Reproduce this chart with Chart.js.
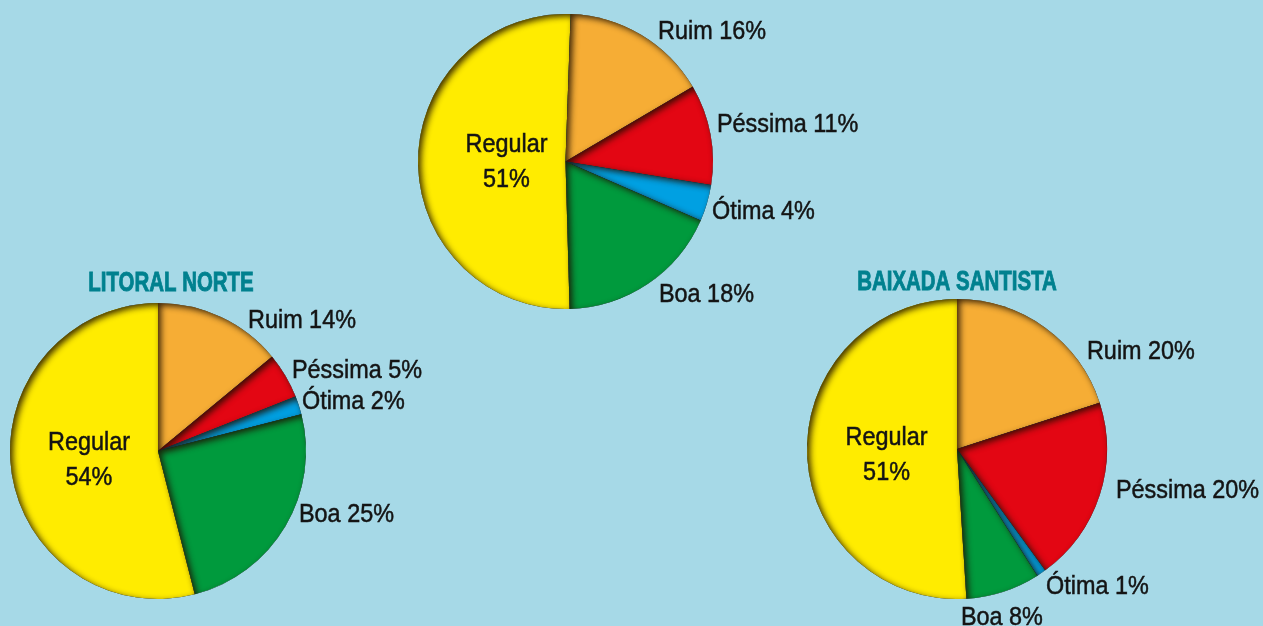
<!DOCTYPE html>
<html>
<head>
<meta charset="utf-8">
<script src="https://cdn.jsdelivr.net/npm/chart.js@4.4.1/dist/chart.umd.min.js"></script>
<style>
  html, body { margin: 0; padding: 0; background: #a6d9e7; overflow: hidden; }
  #wrap { position: relative; width: 1263px; height: 626px; }
  canvas { position: absolute; left: 0; top: 0; }
</style>
</head>
<body>
<div id="wrap">
  <canvas id="cEstado" width="1263" height="626"></canvas>
  <canvas id="cLitoral" width="1263" height="626"></canvas>
  <canvas id="cBaixada" width="1263" height="626"></canvas>
</div>
<script>
// ---- data ----
const categories = ['Ruim', 'Péssima', 'Ótima', 'Boa', 'Regular'];
const estadoValues = [16, 11, 4, 18, 51];
const litoralValues = [14, 5, 2, 25, 54];
const baixadaValues = [20, 20, 1, 8, 51];
const titles = ['', 'LITORAL NORTE', 'BAIXADA SANTISTA'];

// ---- styles ----
const sliceColors = ['#f6ad35', '#e30613', '#00a0e2', '#009a3d', '#ffec00'];
const LABEL_FONT = '26px "Liberation Sans", Arial, sans-serif';
const LABEL_SX = 0.9;
const TITLE_FONT = 'bold 28px "Liberation Sans", Arial, sans-serif';
const TITLE_SX = 0.73;
const CAP = 18.6;

function drawText(ctx, text, x, y, sx, strokeW) {
  ctx.save();
  ctx.translate(x, y);
  ctx.scale(sx, 1);
  ctx.fillText(text, 0, 0);
  if (strokeW) { ctx.lineWidth = strokeW; ctx.strokeStyle = ctx.fillStyle; ctx.strokeText(text, 0, 0); }
  ctx.restore();
}

// inner shadow on each slice (light from lower right)
const innerShadow = {
  id: 'innerShadow',
  afterDatasetsDraw(chart) {
    const ctx = chart.ctx;
    const meta = chart.getDatasetMeta(0);
    meta.data.forEach(arc => {
      const p = arc.getProps(['x', 'y', 'startAngle', 'endAngle', 'outerRadius'], true);
      ctx.save();
      ctx.beginPath();
      ctx.moveTo(p.x, p.y);
      ctx.arc(p.x, p.y, p.outerRadius, p.startAngle, p.endAngle);
      ctx.closePath();
      ctx.clip();
      ctx.beginPath();
      ctx.rect(p.x - p.outerRadius * 3, p.y - p.outerRadius * 3, p.outerRadius * 6, p.outerRadius * 6);
      ctx.moveTo(p.x, p.y);
      ctx.arc(p.x, p.y, p.outerRadius, p.startAngle, p.endAngle);
      ctx.closePath();
      ctx.shadowColor = 'rgba(30,15,0,0.85)';
      ctx.shadowBlur = 6;
      ctx.shadowOffsetX = 3;
      ctx.shadowOffsetY = 2.5;
      ctx.fillStyle = '#000';
      ctx.fill('evenodd');
      ctx.restore();
    });
  }
};

// labels for slices + title
const sliceLabels = {
  id: 'sliceLabels',
  afterDraw(chart, args, opts) {
    const ctx = chart.ctx;
    const meta = chart.getDatasetMeta(0);
    const data = chart.data.datasets[0].data;
    const labels = chart.data.labels;
    ctx.save();
    ctx.fillStyle = '#141414';
    ctx.font = LABEL_FONT;
    ctx.textBaseline = 'alphabetic';
    meta.data.forEach((arc, i) => {
      const p = arc.getProps(['x', 'y', 'startAngle', 'endAngle', 'outerRadius'], true);
      const mid = (p.startAngle + p.endAngle) / 2;
      const o = opts.place[i];
      if (o.inside) {
        const rr = p.outerRadius * o.r;
        const cx = p.x + Math.cos(mid) * rr;
        const cy = p.y + Math.sin(mid) * rr + (o.dy || 0);
        ctx.textAlign = 'center';
        drawText(ctx, labels[i], cx, cy - 17.5 + CAP / 2, LABEL_SX, 0.5);
        drawText(ctx, data[i] + '%', cx, cy + 17.5 + CAP / 2, LABEL_SX, 0.5);
      } else {
        const ax = p.x + Math.cos(mid) * p.outerRadius + o.dx;
        const ay = p.y + Math.sin(mid) * p.outerRadius + o.dy;
        ctx.textAlign = 'left';
        drawText(ctx, labels[i] + ' ' + data[i] + '%', ax, ay + CAP / 2, LABEL_SX, 0.5);
      }
    });
    if (opts.title) {
      const a = chart.chartArea;
      ctx.font = TITLE_FONT;
      ctx.fillStyle = '#00818f';
      ctx.textAlign = 'center';
      drawText(ctx, opts.title, (a.left + a.right) / 2 + (opts.titleDx || 0), a.top - opts.titleGap, TITLE_SX, 0.9);
    }
    ctx.restore();
  }
};

function makePie(id, values, rotation, padding, place, title, titleGap, titleDx) {
  return new Chart(document.getElementById(id), {
    type: 'pie',
    data: {
      labels: categories,
      datasets: [{ data: values, backgroundColor: sliceColors, borderWidth: 0 }]
    },
    options: {
      responsive: false,
      animation: false,
      devicePixelRatio: 1,
      rotation: rotation,
      layout: { padding: padding },
      events: [],
      plugins: {
        legend: { display: false },
        tooltip: { enabled: false },
        sliceLabels: { place: place, title: title, titleGap: titleGap, titleDx: titleDx }
      }
    },
    plugins: [innerShadow, sliceLabels]
  });
}

makePie('cEstado', estadoValues, 2,
  { left: 418, right: 550, top: 14, bottom: 317 },
  [ { dx: 17, dy: -5 }, { dx: 6.5, dy: -12 }, { dx: 5, dy: 6.5 }, { dx: 11, dy: 8.7 }, { inside: true, r: 0.40, dy: -1 } ],
  titles[0], 12, 0);

makePie('cLitoral', litoralValues, 0,
  { left: 10, right: 957, top: 303, bottom: 27 },
  [ { dx: 27, dy: 1.4 }, { dx: 6.6, dy: -7.2 }, { dx: 3.2, dy: -5.3 }, { dx: 13.6, dy: -13.8 }, { inside: true, r: 0.47, dy: -2 } ],
  titles[1], 12.3, 13);

makePie('cBaixada', baixadaValues, 0,
  { left: 807, right: 156, top: 299, bottom: 27 },
  [ { dx: 41.8, dy: 21.9 }, { dx: 16.3, dy: -6.4 }, { dx: 4.7, dy: 11.4 }, { dx: -42.4, dy: 24.3 }, { inside: true, r: 0.47, dy: 1.5 } ],
  titles[2], 9, 0);
</script>
</body>
</html>
